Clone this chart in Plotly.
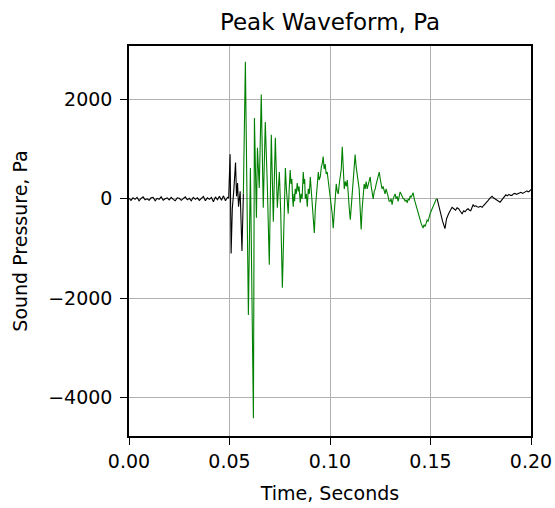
import plotly.graph_objects as go

# Pre-event background noise (black)
pre_t = [0.000, 0.001, 0.002, 0.003, 0.004, 0.005, 0.006, 0.007, 0.008, 0.009,
         0.010, 0.011, 0.012, 0.013, 0.014, 0.015, 0.016, 0.017, 0.018, 0.019,
         0.020, 0.021, 0.022, 0.023, 0.024, 0.025, 0.026, 0.027, 0.028, 0.029,
         0.030, 0.031, 0.032, 0.033, 0.034, 0.035, 0.036, 0.037, 0.038, 0.039,
         0.040, 0.041, 0.042, 0.043, 0.044, 0.045, 0.046, 0.047, 0.048, 0.049,
         0.0496, 0.0503, 0.0508, 0.0514, 0.0521, 0.0530, 0.0535, 0.0540, 0.0545,
         0.0553, 0.0562, 0.0569]
pre_p = [10, -30, 20, -10, 30, -40, 10, 40, -20, 0,
         -30, 20, 30, -40, 10, -10, 40, -30, 0, 20,
         -20, 30, -10, -40, 20, 10, -30, 0, 40, -20,
         10, -40, 30, -10, 20, -30, 10, 50, -40, 20,
         -10, 30, -60, 40, -20, 50, -30, 60, -40, 30,
         20, 900, -1100, -200, 150, 730, 50, 320, -160,
         150, -1050, 100]

# Main event (green)
main_t = [0.0569, 0.0579, 0.0594, 0.0604, 0.0619, 0.0624, 0.0634, 0.0639, 0.0648, 0.0658,
          0.0668, 0.0678, 0.0688, 0.0698, 0.0708, 0.0718, 0.0728, 0.0738, 0.0748, 0.0755,
          0.0763, 0.0770, 0.0778, 0.0783, 0.0788, 0.0792, 0.0797, 0.0802, 0.0806, 0.0810,
          0.0814, 0.0817, 0.0821, 0.0824, 0.0827, 0.0832, 0.0837, 0.0842, 0.0846, 0.0852,
          0.0856, 0.0861, 0.0867, 0.0871, 0.0874, 0.0877, 0.0882, 0.0887, 0.0892, 0.0897,
          0.0902, 0.0906, 0.0912, 0.0917, 0.0922, 0.0927, 0.0932, 0.0937, 0.0942, 0.0946,
          0.0952, 0.0957, 0.0961, 0.0966, 0.0971, 0.0976, 0.0981, 0.0986, 0.0993, 0.1001,
          0.1006, 0.1011, 0.1016, 0.1021, 0.1026, 0.1031, 0.1036, 0.1041, 0.1046, 0.1051,
          0.1056, 0.1061, 0.1066, 0.1071, 0.1076, 0.1081, 0.1086, 0.1091, 0.1096, 0.1101,
          0.1106, 0.1111, 0.1116, 0.1120, 0.1125, 0.1130, 0.1135, 0.1140, 0.1145, 0.1150,
          0.1155, 0.1160, 0.1165, 0.1170, 0.1175, 0.1180, 0.1185, 0.1190, 0.1195, 0.1200,
          0.1205, 0.1210, 0.1215, 0.1220, 0.1225, 0.1230, 0.1235, 0.1240, 0.1245, 0.1250,
          0.1255, 0.1259, 0.1264, 0.1269, 0.1274, 0.1279, 0.1284, 0.1289, 0.1294, 0.1299,
          0.1304, 0.1309, 0.1314, 0.1319, 0.1324, 0.1329, 0.1334, 0.1339, 0.1344, 0.1349,
          0.1354, 0.1359, 0.1364, 0.1369, 0.1374, 0.1379, 0.1384, 0.1389, 0.1394, 0.1399,
          0.1404, 0.1409, 0.1414, 0.1419, 0.1424, 0.1429, 0.1434, 0.1439, 0.1444, 0.1449,
          0.1454, 0.1459, 0.1463, 0.1468, 0.1473, 0.1478, 0.1483, 0.1488, 0.1493, 0.1498,
          0.1503, 0.1508, 0.1513, 0.1518, 0.1523, 0.1528, 0.1533]
main_p = [100, 2760, -2340, 620, -4420, 1630, -380, 1030, 220, 2100,
          -180, 1550, 300, -1330, 1290, -460, 1230, -180, 540, -300,
          -1790, -400, 620, 200, 0, -300, 200, 580, 300, 400,
          0, -160, 100, -50, 200, 100, 320, 150, 250, -80,
          100, 0, 540, 300, 400, 0, 100, -160, 200, 100,
          440, 200, -100, -300, -690, -200, 100, 300, 540, 380,
          450, 650, 700, 850, 600, 700, 500, 540, 300, 100,
          -200, -300, -590, -200, 100, 300, 150, 100, 300, 450,
          600, 1050, 400, 200, 350, 250, 380, 0, -200, -420,
          -100, 200, 500, 650, 890, 650, 500, 350, 200, -200,
          -620, -200, 150, 300, 200, 350, 200, 300, 350, 440,
          250, 150, 0, 150, 200, 300, 400, 450, 540, 400,
          300, 200, 250, 150, 100, 200, 140, 50, -50, -50,
          0, -120, 0, 50, 100, 0, 50, -50, 80, 140,
          100, 60, 0, 0, -50, -20, -80, 0, -30, 60,
          30, 80, 120, 0, -80, -150, -250, -330, -400, -430,
          -500, -550, -590, -520, -560, -500, -430, -450, -350, -300,
          -250, -200, -120, -80, -40, -10, 0]

# Post-event tail (black)
post_t = [0.1533, 0.1542, 0.1550, 0.1560, 0.1572, 0.1580, 0.1590, 0.1598, 0.1607, 0.1616,
          0.1625, 0.1632, 0.1640, 0.1648, 0.1657, 0.1665, 0.1672, 0.1680, 0.1687, 0.1694,
          0.1700, 0.1706, 0.1712, 0.1718, 0.1725, 0.1732, 0.1740, 0.1748, 0.1757, 0.1763,
          0.1770, 0.1778, 0.1785, 0.1795, 0.1806, 0.1813, 0.1820, 0.1828, 0.1835, 0.1840,
          0.1846, 0.1853, 0.1860, 0.1868, 0.1875, 0.1882, 0.1890, 0.1898, 0.1905, 0.1912,
          0.1920, 0.1928, 0.1935, 0.1942, 0.1950, 0.1958, 0.1965, 0.1972, 0.1980, 0.1986,
          0.1992, 0.2000]
post_p = [0, -150, -300, -450, -600, -400, -300, -220, -170, -200,
          -230, -180, -200, -250, -300, -240, -260, -220, -200, -230,
          -240, -180, -120, -150, -140, -160, -170, -150, -170, -140,
          -100, -70, -40, 10, 50, 20, 0, -20, -30, -50,
          -70, -30, 0, 40, 80, 60, 90, 70, 70, 100,
          110, 90, 100, 120, 130, 110, 130, 140, 160, 140,
          150, 190]

x_ticks = [0.0, 0.05, 0.10, 0.15, 0.20]
x_tick_labels = ["0.00", "0.05", "0.10", "0.15", "0.20"]
y_ticks = [-4000, -2000, 0, 2000]
y_tick_labels = ["\u22124000", "\u22122000", "0", "2000"]

FONT = "DejaVu Sans"

fig = go.Figure()
fig.add_trace(go.Scatter(x=pre_t, y=pre_p, mode="lines",
                         line=dict(color="black", width=1.1), showlegend=False))
fig.add_trace(go.Scatter(x=post_t, y=post_p, mode="lines",
                         line=dict(color="black", width=1.1), showlegend=False))
fig.add_trace(go.Scatter(x=main_t, y=main_p, mode="lines",
                         line=dict(color="green", width=1.1), showlegend=False))

axis_common = dict(
    showline=True, linecolor="black", linewidth=1.5, mirror=True,
    showgrid=True, gridcolor="#b0b0b0", gridwidth=1,
    ticks="outside", ticklen=7, tickwidth=1.2, tickcolor="black",
    zeroline=False, automargin=False,
    tickfont=dict(family=FONT, size=19, color="black"),
)

fig.update_layout(
    width=555, height=508,
    margin=dict(l=128.5, r=24, t=46, b=72),
    paper_bgcolor="white", plot_bgcolor="white",
    font=dict(family=FONT, color="black"),
    title=dict(text="Peak Waveform, Pa", x=0.5, xref="paper",
               y=1 - 22 / 508, yref="container", yanchor="middle", xanchor="center",
               font=dict(family=FONT, size=23, color="black")),
    xaxis=dict(range=[0, 0.2], tickvals=x_ticks, ticktext=x_tick_labels,
               title=dict(text="Time, Seconds", standoff=16,
                          font=dict(family=FONT, size=19, color="black")),
               **axis_common),
    yaxis=dict(range=[-4780, 3080], tickvals=y_ticks, ticktext=y_tick_labels,
               ticklabelstandoff=4,
               title=dict(text="Sound Pressure, Pa", standoff=16,
                          font=dict(family=FONT, size=19, color="black")),
               **axis_common),
)

fig.write_html("out.html")
